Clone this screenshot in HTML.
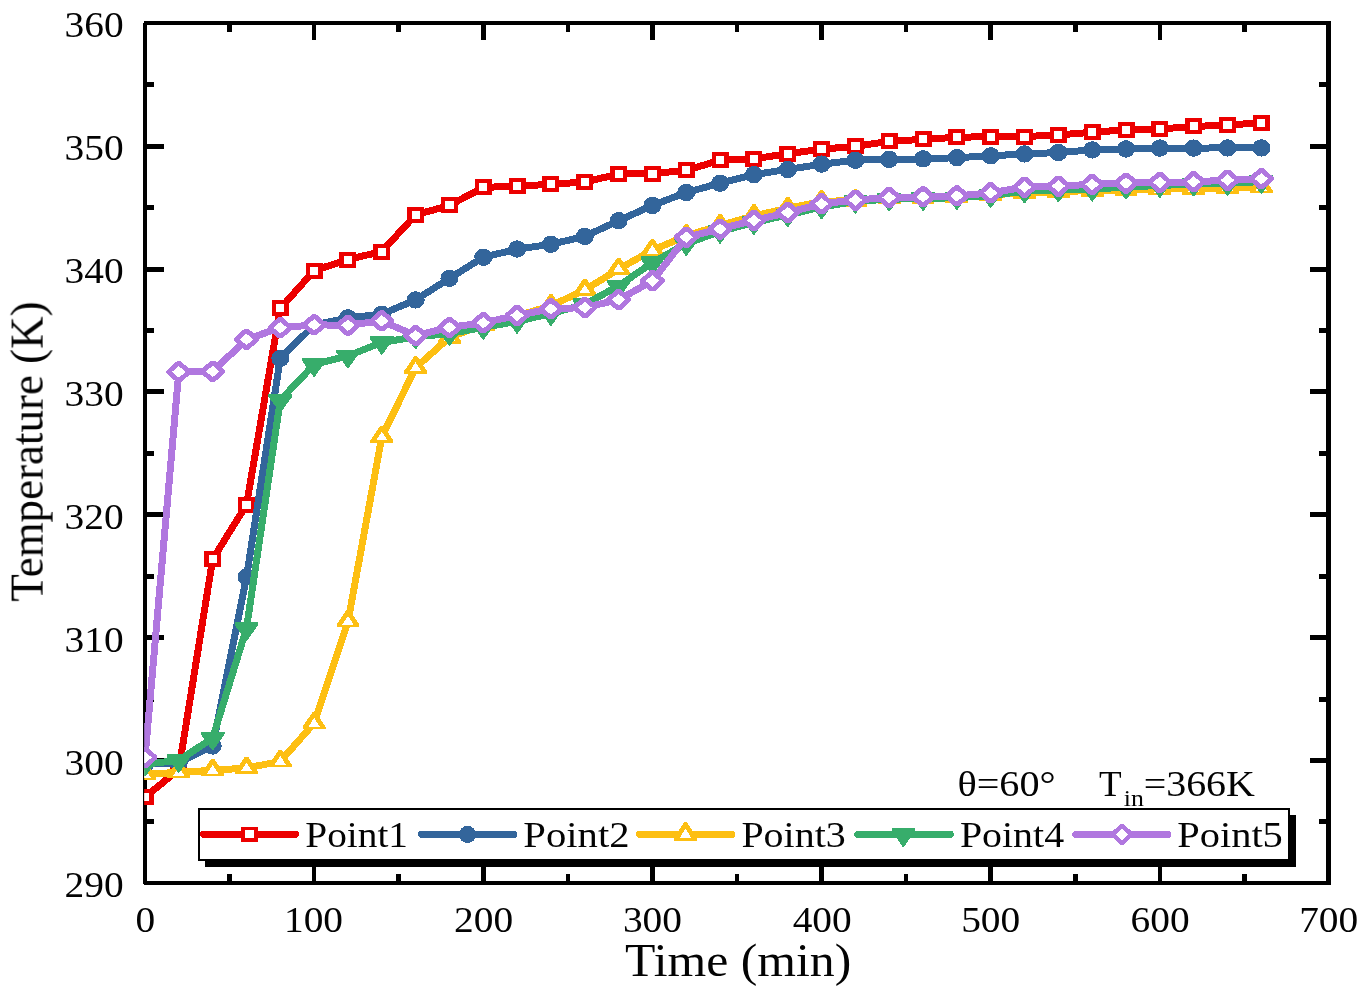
<!DOCTYPE html>
<html lang="en">
<head>
<meta charset="utf-8">
<title>Temperature vs Time</title>
<style>html,body{margin:0;padding:0;background:#fff}svg{display:block;will-change:transform}</style>
</head>
<body>
<svg width="1370" height="993" viewBox="0 0 1370 993" shape-rendering="crispEdges" font-family="'Liberation Serif', serif" fill="#000">
<rect width="1370" height="993" fill="#fff"/>
<defs><clipPath id="plot"><rect x="144.2" y="20" width="1190" height="866"/></clipPath></defs>
<path d="M144 21H1331V25H144ZM144 881H1331V885H144ZM143 23H147V884H143ZM1326 21H1331V885H1326Z" fill="#000"/>
<path d="M227.32 25.0h4.5v7.0h-4.5ZM227.32 881.0h4.5v-7.0h-4.5ZM311.89 25.0h4.5v15.0h-4.5ZM311.89 881.0h4.5v-15.0h-4.5ZM396.46 25.0h4.5v7.0h-4.5ZM396.46 881.0h4.5v-7.0h-4.5ZM481.04 25.0h4.5v15.0h-4.5ZM481.04 881.0h4.5v-15.0h-4.5ZM565.61 25.0h4.5v7.0h-4.5ZM565.61 881.0h4.5v-7.0h-4.5ZM650.18 25.0h4.5v15.0h-4.5ZM650.18 881.0h4.5v-15.0h-4.5ZM734.75 25.0h4.5v7.0h-4.5ZM734.75 881.0h4.5v-7.0h-4.5ZM819.32 25.0h4.5v15.0h-4.5ZM819.32 881.0h4.5v-15.0h-4.5ZM903.89 25.0h4.5v7.0h-4.5ZM903.89 881.0h4.5v-7.0h-4.5ZM988.46 25.0h4.5v15.0h-4.5ZM988.46 881.0h4.5v-15.0h-4.5ZM1073.04 25.0h4.5v7.0h-4.5ZM1073.04 881.0h4.5v-7.0h-4.5ZM1157.61 25.0h4.5v15.0h-4.5ZM1157.61 881.0h4.5v-15.0h-4.5ZM1242.18 25.0h4.5v7.0h-4.5ZM1242.18 881.0h4.5v-7.0h-4.5ZM147 819.0h7.0v5h-7.0ZM1326 819.0h-7.0v5h7.0ZM147 758.0h17.0v5h-17.0ZM1326 758.0h-16.0v5h16.0ZM147 697.0h7.0v5h-7.0ZM1326 697.0h-7.0v5h7.0ZM147 635.0h17.0v5h-17.0ZM1326 635.0h-16.0v5h16.0ZM147 574.0h7.0v5h-7.0ZM1326 574.0h-7.0v5h7.0ZM147 512.0h17.0v5h-17.0ZM1326 512.0h-16.0v5h16.0ZM147 451.0h7.0v5h-7.0ZM1326 451.0h-7.0v5h7.0ZM147 389.0h17.0v5h-17.0ZM1326 389.0h-16.0v5h16.0ZM147 328.0h7.0v5h-7.0ZM1326 328.0h-7.0v5h7.0ZM147 267.0h17.0v5h-17.0ZM1326 267.0h-16.0v5h16.0ZM147 205.0h7.0v5h-7.0ZM1326 205.0h-7.0v5h7.0ZM147 144.0h17.0v5h-17.0ZM1326 144.0h-16.0v5h16.0ZM147 82.0h7.0v5h-7.0ZM1326 82.0h-7.0v5h7.0Z" fill="#000"/>
<g clip-path="url(#plot)">
<path d="M145.0 797.0L178.8 769.6L212.7 559.1L246.5 504.7L280.3 308.4L314.1 270.6L348.0 259.5L381.8 251.5L415.6 214.9L449.5 205.4L483.3 187.4L517.1 186.2L550.9 184.3L584.8 182.0L618.6 174.1L652.4 173.6L686.3 170.4L720.1 160.2L753.9 158.9L787.7 153.7L821.6 149.2L855.4 146.3L889.2 141.4L923.1 139.3L956.9 137.3L990.7 136.6L1024.5 136.6L1058.4 134.9L1092.2 132.3L1126.0 129.8L1159.9 129.0L1193.7 126.4L1227.5 125.2L1261.3 122.6" fill="none" stroke="#ec0000" stroke-width="7.0" stroke-linejoin="round" stroke-linecap="round"/>
<rect x="136.50" y="789.00" width="17.00" height="16.00" fill="#ec0000"/>
<rect x="140.90" y="793.00" width="8.20" height="8.00" fill="#fff"/>
<rect x="170.33" y="761.60" width="17.00" height="16.00" fill="#ec0000"/>
<rect x="174.73" y="765.60" width="8.20" height="8.00" fill="#fff"/>
<rect x="204.16" y="551.15" width="17.00" height="16.00" fill="#ec0000"/>
<rect x="208.56" y="555.15" width="8.20" height="8.00" fill="#fff"/>
<rect x="237.99" y="496.72" width="17.00" height="16.00" fill="#ec0000"/>
<rect x="242.39" y="500.72" width="8.20" height="8.00" fill="#fff"/>
<rect x="271.81" y="300.40" width="17.00" height="16.00" fill="#ec0000"/>
<rect x="276.21" y="304.40" width="8.20" height="8.00" fill="#fff"/>
<rect x="305.64" y="262.56" width="17.00" height="16.00" fill="#ec0000"/>
<rect x="310.04" y="266.56" width="8.20" height="8.00" fill="#fff"/>
<rect x="339.47" y="251.50" width="17.00" height="16.00" fill="#ec0000"/>
<rect x="343.87" y="255.50" width="8.20" height="8.00" fill="#fff"/>
<rect x="373.30" y="243.51" width="17.00" height="16.00" fill="#ec0000"/>
<rect x="377.70" y="247.51" width="8.20" height="8.00" fill="#fff"/>
<rect x="407.13" y="206.90" width="17.00" height="16.00" fill="#ec0000"/>
<rect x="411.53" y="210.90" width="8.20" height="8.00" fill="#fff"/>
<rect x="440.96" y="197.44" width="17.00" height="16.00" fill="#ec0000"/>
<rect x="445.36" y="201.44" width="8.20" height="8.00" fill="#fff"/>
<rect x="474.79" y="179.38" width="17.00" height="16.00" fill="#ec0000"/>
<rect x="479.19" y="183.38" width="8.20" height="8.00" fill="#fff"/>
<rect x="508.61" y="178.15" width="17.00" height="16.00" fill="#ec0000"/>
<rect x="513.01" y="182.15" width="8.20" height="8.00" fill="#fff"/>
<rect x="542.44" y="176.31" width="17.00" height="16.00" fill="#ec0000"/>
<rect x="546.84" y="180.31" width="8.20" height="8.00" fill="#fff"/>
<rect x="576.27" y="173.98" width="17.00" height="16.00" fill="#ec0000"/>
<rect x="580.67" y="177.98" width="8.20" height="8.00" fill="#fff"/>
<rect x="610.10" y="166.11" width="17.00" height="16.00" fill="#ec0000"/>
<rect x="614.50" y="170.11" width="8.20" height="8.00" fill="#fff"/>
<rect x="643.93" y="165.62" width="17.00" height="16.00" fill="#ec0000"/>
<rect x="648.33" y="169.62" width="8.20" height="8.00" fill="#fff"/>
<rect x="677.76" y="162.43" width="17.00" height="16.00" fill="#ec0000"/>
<rect x="682.16" y="166.43" width="8.20" height="8.00" fill="#fff"/>
<rect x="711.59" y="152.23" width="17.00" height="16.00" fill="#ec0000"/>
<rect x="715.99" y="156.23" width="8.20" height="8.00" fill="#fff"/>
<rect x="745.41" y="150.88" width="17.00" height="16.00" fill="#ec0000"/>
<rect x="749.81" y="154.88" width="8.20" height="8.00" fill="#fff"/>
<rect x="779.24" y="145.72" width="17.00" height="16.00" fill="#ec0000"/>
<rect x="783.64" y="149.72" width="8.20" height="8.00" fill="#fff"/>
<rect x="813.07" y="141.17" width="17.00" height="16.00" fill="#ec0000"/>
<rect x="817.47" y="145.17" width="8.20" height="8.00" fill="#fff"/>
<rect x="846.90" y="138.35" width="17.00" height="16.00" fill="#ec0000"/>
<rect x="851.30" y="142.35" width="8.20" height="8.00" fill="#fff"/>
<rect x="880.73" y="133.43" width="17.00" height="16.00" fill="#ec0000"/>
<rect x="885.13" y="137.43" width="8.20" height="8.00" fill="#fff"/>
<rect x="914.56" y="131.35" width="17.00" height="16.00" fill="#ec0000"/>
<rect x="918.96" y="135.35" width="8.20" height="8.00" fill="#fff"/>
<rect x="948.39" y="129.26" width="17.00" height="16.00" fill="#ec0000"/>
<rect x="952.79" y="133.26" width="8.20" height="8.00" fill="#fff"/>
<rect x="982.21" y="128.64" width="17.00" height="16.00" fill="#ec0000"/>
<rect x="986.61" y="132.64" width="8.20" height="8.00" fill="#fff"/>
<rect x="1016.04" y="128.64" width="17.00" height="16.00" fill="#ec0000"/>
<rect x="1020.44" y="132.64" width="8.20" height="8.00" fill="#fff"/>
<rect x="1049.87" y="126.92" width="17.00" height="16.00" fill="#ec0000"/>
<rect x="1054.27" y="130.92" width="8.20" height="8.00" fill="#fff"/>
<rect x="1083.70" y="124.34" width="17.00" height="16.00" fill="#ec0000"/>
<rect x="1088.10" y="128.34" width="8.20" height="8.00" fill="#fff"/>
<rect x="1117.53" y="121.76" width="17.00" height="16.00" fill="#ec0000"/>
<rect x="1121.93" y="125.76" width="8.20" height="8.00" fill="#fff"/>
<rect x="1151.36" y="121.03" width="17.00" height="16.00" fill="#ec0000"/>
<rect x="1155.76" y="125.03" width="8.20" height="8.00" fill="#fff"/>
<rect x="1185.19" y="118.45" width="17.00" height="16.00" fill="#ec0000"/>
<rect x="1189.59" y="122.45" width="8.20" height="8.00" fill="#fff"/>
<rect x="1219.01" y="117.22" width="17.00" height="16.00" fill="#ec0000"/>
<rect x="1223.41" y="121.22" width="8.20" height="8.00" fill="#fff"/>
<rect x="1252.84" y="114.64" width="17.00" height="16.00" fill="#ec0000"/>
<rect x="1257.24" y="118.64" width="8.20" height="8.00" fill="#fff"/>
<path d="M145.0 764.4L178.8 762.8L212.7 746.0L246.5 577.1L280.3 358.4L314.1 325.0L348.0 317.9L381.8 314.2L415.6 299.9L449.5 278.3L483.3 257.3L517.1 249.1L550.9 244.3L584.8 236.4L618.6 220.7L652.4 205.4L686.3 192.5L720.1 183.2L753.9 174.6L787.7 169.4L821.6 164.2L855.4 160.2L889.2 159.4L923.1 158.9L956.9 157.7L990.7 155.8L1024.5 154.0L1058.4 152.5L1092.2 149.9L1126.0 148.9L1159.9 148.1L1193.7 148.1L1227.5 147.9L1261.3 147.9" fill="none" stroke="#33659b" stroke-width="7.0" stroke-linejoin="round" stroke-linecap="round"/>
<ellipse cx="145.00" cy="764.44" rx="9.00" ry="8.70" fill="#33659b"/>
<ellipse cx="178.83" cy="762.85" rx="9.00" ry="8.70" fill="#33659b"/>
<ellipse cx="212.66" cy="746.01" rx="9.00" ry="8.70" fill="#33659b"/>
<ellipse cx="246.49" cy="577.09" rx="9.00" ry="8.70" fill="#33659b"/>
<ellipse cx="280.31" cy="358.40" rx="9.00" ry="8.70" fill="#33659b"/>
<ellipse cx="314.14" cy="324.98" rx="9.00" ry="8.70" fill="#33659b"/>
<ellipse cx="347.97" cy="317.86" rx="9.00" ry="8.70" fill="#33659b"/>
<ellipse cx="381.80" cy="314.17" rx="9.00" ry="8.70" fill="#33659b"/>
<ellipse cx="415.63" cy="299.92" rx="9.00" ry="8.70" fill="#33659b"/>
<ellipse cx="449.46" cy="278.30" rx="9.00" ry="8.70" fill="#33659b"/>
<ellipse cx="483.29" cy="257.29" rx="9.00" ry="8.70" fill="#33659b"/>
<ellipse cx="517.11" cy="249.06" rx="9.00" ry="8.70" fill="#33659b"/>
<ellipse cx="550.94" cy="244.27" rx="9.00" ry="8.70" fill="#33659b"/>
<ellipse cx="584.77" cy="236.40" rx="9.00" ry="8.70" fill="#33659b"/>
<ellipse cx="618.60" cy="220.68" rx="9.00" ry="8.70" fill="#33659b"/>
<ellipse cx="652.43" cy="205.44" rx="9.00" ry="8.70" fill="#33659b"/>
<ellipse cx="686.26" cy="192.54" rx="9.00" ry="8.70" fill="#33659b"/>
<ellipse cx="720.09" cy="183.21" rx="9.00" ry="8.70" fill="#33659b"/>
<ellipse cx="753.91" cy="174.61" rx="9.00" ry="8.70" fill="#33659b"/>
<ellipse cx="787.74" cy="169.45" rx="9.00" ry="8.70" fill="#33659b"/>
<ellipse cx="821.57" cy="164.16" rx="9.00" ry="8.70" fill="#33659b"/>
<ellipse cx="855.40" cy="160.23" rx="9.00" ry="8.70" fill="#33659b"/>
<ellipse cx="889.23" cy="159.37" rx="9.00" ry="8.70" fill="#33659b"/>
<ellipse cx="923.06" cy="158.88" rx="9.00" ry="8.70" fill="#33659b"/>
<ellipse cx="956.89" cy="157.65" rx="9.00" ry="8.70" fill="#33659b"/>
<ellipse cx="990.71" cy="155.81" rx="9.00" ry="8.70" fill="#33659b"/>
<ellipse cx="1024.54" cy="153.97" rx="9.00" ry="8.70" fill="#33659b"/>
<ellipse cx="1058.37" cy="152.49" rx="9.00" ry="8.70" fill="#33659b"/>
<ellipse cx="1092.20" cy="149.91" rx="9.00" ry="8.70" fill="#33659b"/>
<ellipse cx="1126.03" cy="148.93" rx="9.00" ry="8.70" fill="#33659b"/>
<ellipse cx="1159.86" cy="148.07" rx="9.00" ry="8.70" fill="#33659b"/>
<ellipse cx="1193.69" cy="148.07" rx="9.00" ry="8.70" fill="#33659b"/>
<ellipse cx="1227.51" cy="147.95" rx="9.00" ry="8.70" fill="#33659b"/>
<ellipse cx="1261.34" cy="147.95" rx="9.00" ry="8.70" fill="#33659b"/>
<path d="M145.0 774.3L178.8 772.3L212.7 770.3L246.5 768.0L280.3 761.4L314.1 723.3L348.0 621.3L381.8 437.0L415.6 367.6L449.5 337.5L483.3 324.6L517.1 316.0L550.9 305.8L584.8 290.0L618.6 269.1L652.4 250.3L686.3 235.8L720.1 225.5L753.9 215.8L787.7 208.4L821.6 201.4L855.4 200.5L889.2 198.1L923.1 197.5L956.9 196.7L990.7 194.8L1024.5 192.9L1058.4 191.7L1092.2 190.5L1126.0 189.8L1159.9 189.2L1193.7 188.6L1227.5 188.0L1261.3 187.3" fill="none" stroke="#fdbf12" stroke-width="7.0" stroke-linejoin="round" stroke-linecap="round"/>
<path d="M143.50 762.87L146.50 762.87L156.40 777.57L156.40 780.37L133.60 780.37L133.60 777.57Z" fill="#fdbf12"/>
<path d="M145.00 768.87L150.60 777.57L139.40 777.57Z" fill="#fff"/>
<path d="M177.33 760.91L180.33 760.91L190.23 775.61L190.23 778.41L167.43 778.41L167.43 775.61Z" fill="#fdbf12"/>
<path d="M178.83 766.91L184.43 775.61L173.23 775.61Z" fill="#fff"/>
<path d="M211.16 758.94L214.16 758.94L224.06 773.64L224.06 776.44L201.26 776.44L201.26 773.64Z" fill="#fdbf12"/>
<path d="M212.66 764.94L218.26 773.64L207.06 773.64Z" fill="#fff"/>
<path d="M244.99 756.61L247.99 756.61L257.89 771.31L257.89 774.11L235.09 774.11L235.09 771.31Z" fill="#fdbf12"/>
<path d="M246.49 762.61L252.09 771.31L240.89 771.31Z" fill="#fff"/>
<path d="M278.81 749.97L281.81 749.97L291.71 764.67L291.71 767.47L268.91 767.47L268.91 764.67Z" fill="#fdbf12"/>
<path d="M280.31 755.97L285.91 764.67L274.71 764.67Z" fill="#fff"/>
<path d="M312.64 711.89L315.64 711.89L325.54 726.59L325.54 729.39L302.74 729.39L302.74 726.59Z" fill="#fdbf12"/>
<path d="M314.14 717.89L319.74 726.59L308.54 726.59Z" fill="#fff"/>
<path d="M346.47 609.91L349.47 609.91L359.37 624.61L359.37 627.41L336.57 627.41L336.57 624.61Z" fill="#fdbf12"/>
<path d="M347.97 615.91L353.57 624.61L342.37 624.61Z" fill="#fff"/>
<path d="M380.30 425.63L383.30 425.63L393.20 440.33L393.20 443.13L370.40 443.13L370.40 440.33Z" fill="#fdbf12"/>
<path d="M381.80 431.63L387.40 440.33L376.20 440.33Z" fill="#fff"/>
<path d="M414.13 356.21L417.13 356.21L427.03 370.91L427.03 373.71L404.23 373.71L404.23 370.91Z" fill="#fdbf12"/>
<path d="M415.63 362.21L421.23 370.91L410.03 370.91Z" fill="#fff"/>
<path d="M447.96 326.11L450.96 326.11L460.86 340.81L460.86 343.61L438.06 343.61L438.06 340.81Z" fill="#fdbf12"/>
<path d="M449.46 332.11L455.06 340.81L443.86 340.81Z" fill="#fff"/>
<path d="M481.79 313.21L484.79 313.21L494.69 327.91L494.69 330.71L471.89 330.71L471.89 327.91Z" fill="#fdbf12"/>
<path d="M483.29 319.21L488.89 327.91L477.69 327.91Z" fill="#fff"/>
<path d="M515.61 304.61L518.61 304.61L528.51 319.31L528.51 322.11L505.71 322.11L505.71 319.31Z" fill="#fdbf12"/>
<path d="M517.11 310.61L522.71 319.31L511.51 319.31Z" fill="#fff"/>
<path d="M549.44 294.42L552.44 294.42L562.34 309.12L562.34 311.92L539.54 311.92L539.54 309.12Z" fill="#fdbf12"/>
<path d="M550.94 300.42L556.54 309.12L545.34 309.12Z" fill="#fff"/>
<path d="M583.27 278.57L586.27 278.57L596.17 293.27L596.17 296.07L573.37 296.07L573.37 293.27Z" fill="#fdbf12"/>
<path d="M584.77 284.57L590.37 293.27L579.17 293.27Z" fill="#fff"/>
<path d="M617.10 257.68L620.10 257.68L630.00 272.38L630.00 275.18L607.20 275.18L607.20 272.38Z" fill="#fdbf12"/>
<path d="M618.60 263.68L624.20 272.38L613.00 272.38Z" fill="#fff"/>
<path d="M650.93 238.89L653.93 238.89L663.83 253.59L663.83 256.39L641.03 256.39L641.03 253.59Z" fill="#fdbf12"/>
<path d="M652.43 244.89L658.03 253.59L646.83 253.59Z" fill="#fff"/>
<path d="M684.76 224.39L687.76 224.39L697.66 239.09L697.66 241.89L674.86 241.89L674.86 239.09Z" fill="#fdbf12"/>
<path d="M686.26 230.39L691.86 239.09L680.66 239.09Z" fill="#fff"/>
<path d="M718.59 214.07L721.59 214.07L731.49 228.77L731.49 231.57L708.69 231.57L708.69 228.77Z" fill="#fdbf12"/>
<path d="M720.09 220.07L725.69 228.77L714.49 228.77Z" fill="#fff"/>
<path d="M752.41 204.36L755.41 204.36L765.31 219.06L765.31 221.86L742.51 221.86L742.51 219.06Z" fill="#fdbf12"/>
<path d="M753.91 210.36L759.51 219.06L748.31 219.06Z" fill="#fff"/>
<path d="M786.24 196.99L789.24 196.99L799.14 211.69L799.14 214.49L776.34 214.49L776.34 211.69Z" fill="#fdbf12"/>
<path d="M787.74 202.99L793.34 211.69L782.14 211.69Z" fill="#fff"/>
<path d="M820.07 189.99L823.07 189.99L832.97 204.69L832.97 207.49L810.17 207.49L810.17 204.69Z" fill="#fdbf12"/>
<path d="M821.57 195.99L827.17 204.69L815.97 204.69Z" fill="#fff"/>
<path d="M853.90 189.13L856.90 189.13L866.80 203.83L866.80 206.63L844.00 206.63L844.00 203.83Z" fill="#fdbf12"/>
<path d="M855.40 195.13L861.00 203.83L849.80 203.83Z" fill="#fff"/>
<path d="M887.73 186.67L890.73 186.67L900.63 201.37L900.63 204.17L877.83 204.17L877.83 201.37Z" fill="#fdbf12"/>
<path d="M889.23 192.67L894.83 201.37L883.63 201.37Z" fill="#fff"/>
<path d="M921.56 186.06L924.56 186.06L934.46 200.76L934.46 203.56L911.66 203.56L911.66 200.76Z" fill="#fdbf12"/>
<path d="M923.06 192.06L928.66 200.76L917.46 200.76Z" fill="#fff"/>
<path d="M955.39 185.32L958.39 185.32L968.29 200.02L968.29 202.82L945.49 202.82L945.49 200.02Z" fill="#fdbf12"/>
<path d="M956.89 191.32L962.49 200.02L951.29 200.02Z" fill="#fff"/>
<path d="M989.21 183.35L992.21 183.35L1002.11 198.05L1002.11 200.85L979.31 200.85L979.31 198.05Z" fill="#fdbf12"/>
<path d="M990.71 189.35L996.31 198.05L985.11 198.05Z" fill="#fff"/>
<path d="M1023.04 181.51L1026.04 181.51L1035.94 196.21L1035.94 199.01L1013.14 199.01L1013.14 196.21Z" fill="#fdbf12"/>
<path d="M1024.54 187.51L1030.14 196.21L1018.94 196.21Z" fill="#fff"/>
<path d="M1056.87 180.28L1059.87 180.28L1069.77 194.98L1069.77 197.78L1046.97 197.78L1046.97 194.98Z" fill="#fdbf12"/>
<path d="M1058.37 186.28L1063.97 194.98L1052.77 194.98Z" fill="#fff"/>
<path d="M1090.70 179.05L1093.70 179.05L1103.60 193.75L1103.60 196.55L1080.80 196.55L1080.80 193.75Z" fill="#fdbf12"/>
<path d="M1092.20 185.05L1097.80 193.75L1086.60 193.75Z" fill="#fff"/>
<path d="M1124.53 178.44L1127.53 178.44L1137.43 193.14L1137.43 195.94L1114.63 195.94L1114.63 193.14Z" fill="#fdbf12"/>
<path d="M1126.03 184.44L1131.63 193.14L1120.43 193.14Z" fill="#fff"/>
<path d="M1158.36 177.83L1161.36 177.83L1171.26 192.53L1171.26 195.33L1148.46 195.33L1148.46 192.53Z" fill="#fdbf12"/>
<path d="M1159.86 183.83L1165.46 192.53L1154.26 192.53Z" fill="#fff"/>
<path d="M1192.19 177.21L1195.19 177.21L1205.09 191.91L1205.09 194.71L1182.29 194.71L1182.29 191.91Z" fill="#fdbf12"/>
<path d="M1193.69 183.21L1199.29 191.91L1188.09 191.91Z" fill="#fff"/>
<path d="M1226.01 176.60L1229.01 176.60L1238.91 191.30L1238.91 194.10L1216.11 194.10L1216.11 191.30Z" fill="#fdbf12"/>
<path d="M1227.51 182.60L1233.11 191.30L1221.91 191.30Z" fill="#fff"/>
<path d="M1259.84 175.86L1262.84 175.86L1272.74 190.56L1272.74 193.36L1249.94 193.36L1249.94 190.56Z" fill="#fdbf12"/>
<path d="M1261.34 181.86L1266.94 190.56L1255.74 190.56Z" fill="#fff"/>
<path d="M145.0 764.1L178.8 760.4L212.7 738.0L246.5 628.4L280.3 400.2L314.1 364.5L348.0 355.9L381.8 342.4L415.6 336.9L449.5 333.5L483.3 327.4L517.1 321.4L550.9 313.6L584.8 304.3L618.6 285.9L652.4 262.6L686.3 243.7L720.1 231.4L753.9 222.6L787.7 214.9L821.6 207.0L855.4 201.3L889.2 199.2L923.1 198.6L956.9 197.7L990.7 195.6L1024.5 191.1L1058.4 190.0L1092.2 189.2L1126.0 187.1L1159.9 185.4L1193.7 184.2L1227.5 183.3L1261.3 181.6" fill="none" stroke="#37ad6b" stroke-width="7.0" stroke-linejoin="round" stroke-linecap="round"/>
<path d="M133.10 757.87L156.90 757.87L156.90 760.47L145.50 776.37L144.50 776.37L133.10 760.47Z" fill="#37ad6b"/>
<path d="M166.93 754.19L190.73 754.19L190.73 756.79L179.33 772.69L178.33 772.69L166.93 756.79Z" fill="#37ad6b"/>
<path d="M200.76 731.83L224.56 731.83L224.56 734.43L213.16 750.33L212.16 750.33L200.76 734.43Z" fill="#37ad6b"/>
<path d="M234.59 622.24L258.39 622.24L258.39 624.84L246.99 640.74L245.99 640.74L234.59 624.84Z" fill="#37ad6b"/>
<path d="M268.41 393.97L292.21 393.97L292.21 396.57L280.81 412.47L279.81 412.47L268.41 396.57Z" fill="#37ad6b"/>
<path d="M302.24 358.34L326.04 358.34L326.04 360.94L314.64 376.84L313.64 376.84L302.24 360.94Z" fill="#37ad6b"/>
<path d="M336.07 349.74L359.87 349.74L359.87 352.34L348.47 368.24L347.47 368.24L336.07 352.34Z" fill="#37ad6b"/>
<path d="M369.90 336.23L393.70 336.23L393.70 338.83L382.30 354.73L381.30 354.73L369.90 338.83Z" fill="#37ad6b"/>
<path d="M403.73 330.70L427.53 330.70L427.53 333.30L416.13 349.20L415.13 349.20L403.73 333.30Z" fill="#37ad6b"/>
<path d="M437.56 327.26L461.36 327.26L461.36 329.86L449.96 345.76L448.96 345.76L437.56 329.86Z" fill="#37ad6b"/>
<path d="M471.39 321.24L495.19 321.24L495.19 323.84L483.79 339.74L482.79 339.74L471.39 323.84Z" fill="#37ad6b"/>
<path d="M505.21 315.22L529.01 315.22L529.01 317.82L517.61 333.72L516.61 333.72L505.21 317.82Z" fill="#37ad6b"/>
<path d="M539.04 307.36L562.84 307.36L562.84 309.96L551.44 325.86L550.44 325.86L539.04 309.96Z" fill="#37ad6b"/>
<path d="M572.87 298.14L596.67 298.14L596.67 300.74L585.27 316.64L584.27 316.64L572.87 300.74Z" fill="#37ad6b"/>
<path d="M606.70 279.71L630.50 279.71L630.50 282.31L619.10 298.21L618.10 298.21L606.70 282.31Z" fill="#37ad6b"/>
<path d="M640.53 256.37L664.33 256.37L664.33 258.97L652.93 274.87L651.93 274.87L640.53 258.97Z" fill="#37ad6b"/>
<path d="M674.36 237.45L698.16 237.45L698.16 240.05L686.76 255.95L685.76 255.95L674.36 240.05Z" fill="#37ad6b"/>
<path d="M708.19 225.17L731.99 225.17L731.99 227.77L720.59 243.67L719.59 243.67L708.19 227.77Z" fill="#37ad6b"/>
<path d="M742.01 216.44L765.81 216.44L765.81 219.04L754.41 234.94L753.41 234.94L742.01 219.04Z" fill="#37ad6b"/>
<path d="M775.84 208.70L799.64 208.70L799.64 211.30L788.24 227.20L787.24 227.20L775.84 211.30Z" fill="#37ad6b"/>
<path d="M809.67 200.84L833.47 200.84L833.47 203.44L822.07 219.34L821.07 219.34L809.67 203.44Z" fill="#37ad6b"/>
<path d="M843.50 195.07L867.30 195.07L867.30 197.67L855.90 213.57L854.90 213.57L843.50 197.67Z" fill="#37ad6b"/>
<path d="M877.33 192.98L901.13 192.98L901.13 195.58L889.73 211.48L888.73 211.48L877.33 195.58Z" fill="#37ad6b"/>
<path d="M911.16 192.36L934.96 192.36L934.96 194.96L923.56 210.86L922.56 210.86L911.16 194.96Z" fill="#37ad6b"/>
<path d="M944.99 191.50L968.79 191.50L968.79 194.10L957.39 210.00L956.39 210.00L944.99 194.10Z" fill="#37ad6b"/>
<path d="M978.81 189.41L1002.61 189.41L1002.61 192.01L991.21 207.91L990.21 207.91L978.81 192.01Z" fill="#37ad6b"/>
<path d="M1012.64 184.87L1036.44 184.87L1036.44 187.47L1025.04 203.37L1024.04 203.37L1012.64 187.47Z" fill="#37ad6b"/>
<path d="M1046.47 183.76L1070.27 183.76L1070.27 186.36L1058.87 202.26L1057.87 202.26L1046.47 186.36Z" fill="#37ad6b"/>
<path d="M1080.30 183.03L1104.10 183.03L1104.10 185.63L1092.70 201.53L1091.70 201.53L1080.30 185.63Z" fill="#37ad6b"/>
<path d="M1114.13 180.94L1137.93 180.94L1137.93 183.54L1126.53 199.44L1125.53 199.44L1114.13 183.54Z" fill="#37ad6b"/>
<path d="M1147.96 179.22L1171.76 179.22L1171.76 181.82L1160.36 197.72L1159.36 197.72L1147.96 181.82Z" fill="#37ad6b"/>
<path d="M1181.79 177.99L1205.59 177.99L1205.59 180.59L1194.19 196.49L1193.19 196.49L1181.79 180.59Z" fill="#37ad6b"/>
<path d="M1215.61 177.13L1239.41 177.13L1239.41 179.73L1228.01 195.63L1227.01 195.63L1215.61 179.73Z" fill="#37ad6b"/>
<path d="M1249.44 175.41L1273.24 175.41L1273.24 178.01L1261.84 193.91L1260.84 193.91L1249.44 178.01Z" fill="#37ad6b"/>
<path d="M145.0 757.4L178.8 371.9L212.7 371.4L246.5 339.4L280.3 327.7L314.1 324.9L348.0 325.2L381.8 320.9L415.6 335.7L449.5 327.4L483.3 322.8L517.1 315.4L550.9 308.9L584.8 307.5L618.6 299.7L652.4 280.9L686.3 237.1L720.1 229.0L753.9 220.4L787.7 212.6L821.6 203.8L855.4 200.0L889.2 197.5L923.1 196.8L956.9 196.0L990.7 192.9L1024.5 187.1L1058.4 186.0L1092.2 184.4L1126.0 183.1L1159.9 182.3L1193.7 181.9L1227.5 180.1L1261.3 178.8" fill="none" stroke="#b077df" stroke-width="7.0" stroke-linejoin="round" stroke-linecap="round"/>
<path d="M142.80 746.94L147.20 746.94L157.40 756.14L157.40 758.74L147.20 767.94L142.80 767.94L132.60 758.74L132.60 756.14Z" fill="#b077df"/>
<path d="M145.00 751.74L151.80 757.44L145.00 763.14L138.20 757.44Z" fill="#fff"/>
<path d="M176.63 361.41L181.03 361.41L191.23 370.61L191.23 373.21L181.03 382.41L176.63 382.41L166.43 373.21L166.43 370.61Z" fill="#b077df"/>
<path d="M178.83 366.21L185.63 371.91L178.83 377.61L172.03 371.91Z" fill="#fff"/>
<path d="M210.46 360.92L214.86 360.92L225.06 370.12L225.06 372.72L214.86 381.92L210.46 381.92L200.26 372.72L200.26 370.12Z" fill="#b077df"/>
<path d="M212.66 365.72L219.46 371.42L212.66 377.12L205.86 371.42Z" fill="#fff"/>
<path d="M244.29 328.86L248.69 328.86L258.89 338.06L258.89 340.66L248.69 349.86L244.29 349.86L234.09 340.66L234.09 338.06Z" fill="#b077df"/>
<path d="M246.49 333.66L253.29 339.36L246.49 345.06L239.69 339.36Z" fill="#fff"/>
<path d="M278.11 317.19L282.51 317.19L292.71 326.39L292.71 328.99L282.51 338.19L278.11 338.19L267.91 328.99L267.91 326.39Z" fill="#b077df"/>
<path d="M280.31 321.99L287.11 327.69L280.31 333.39L273.51 327.69Z" fill="#fff"/>
<path d="M311.94 314.36L316.34 314.36L326.54 323.56L326.54 326.16L316.34 335.36L311.94 335.36L301.74 326.16L301.74 323.56Z" fill="#b077df"/>
<path d="M314.14 319.16L320.94 324.86L314.14 330.56L307.34 324.86Z" fill="#fff"/>
<path d="M345.77 314.73L350.17 314.73L360.37 323.93L360.37 326.53L350.17 335.73L345.77 335.73L335.57 326.53L335.57 323.93Z" fill="#b077df"/>
<path d="M347.97 319.53L354.77 325.23L347.97 330.93L341.17 325.23Z" fill="#fff"/>
<path d="M379.60 310.43L384.00 310.43L394.20 319.63L394.20 322.23L384.00 331.43L379.60 331.43L369.40 322.23L369.40 319.63Z" fill="#b077df"/>
<path d="M381.80 315.23L388.60 320.93L381.80 326.63L375.00 320.93Z" fill="#fff"/>
<path d="M413.43 325.17L417.83 325.17L428.03 334.37L428.03 336.97L417.83 346.17L413.43 346.17L403.23 336.97L403.23 334.37Z" fill="#b077df"/>
<path d="M415.63 329.97L422.43 335.67L415.63 341.37L408.83 335.67Z" fill="#fff"/>
<path d="M447.26 316.94L451.66 316.94L461.86 326.14L461.86 328.74L451.66 337.94L447.26 337.94L437.06 328.74L437.06 326.14Z" fill="#b077df"/>
<path d="M449.46 321.74L456.26 327.44L449.46 333.14L442.66 327.44Z" fill="#fff"/>
<path d="M481.09 312.27L485.49 312.27L495.69 321.47L495.69 324.07L485.49 333.27L481.09 333.27L470.89 324.07L470.89 321.47Z" fill="#b077df"/>
<path d="M483.29 317.07L490.09 322.77L483.29 328.47L476.49 322.77Z" fill="#fff"/>
<path d="M514.91 304.90L519.31 304.90L529.51 314.10L529.51 316.70L519.31 325.90L514.91 325.90L504.71 316.70L504.71 314.10Z" fill="#b077df"/>
<path d="M517.11 309.70L523.91 315.40L517.11 321.10L510.31 315.40Z" fill="#fff"/>
<path d="M548.74 298.39L553.14 298.39L563.34 307.59L563.34 310.19L553.14 319.39L548.74 319.39L538.54 310.19L538.54 307.59Z" fill="#b077df"/>
<path d="M550.94 303.19L557.74 308.89L550.94 314.59L544.14 308.89Z" fill="#fff"/>
<path d="M582.57 297.04L586.97 297.04L597.17 306.24L597.17 308.84L586.97 318.04L582.57 318.04L572.37 308.84L572.37 306.24Z" fill="#b077df"/>
<path d="M584.77 301.84L591.57 307.54L584.77 313.24L577.97 307.54Z" fill="#fff"/>
<path d="M616.40 289.17L620.80 289.17L631.00 298.37L631.00 300.97L620.80 310.17L616.40 310.17L606.20 300.97L606.20 298.37Z" fill="#b077df"/>
<path d="M618.60 293.97L625.40 299.67L618.60 305.37L611.80 299.67Z" fill="#fff"/>
<path d="M650.23 270.38L654.63 270.38L664.83 279.58L664.83 282.18L654.63 291.38L650.23 291.38L640.03 282.18L640.03 279.58Z" fill="#b077df"/>
<path d="M652.43 275.18L659.23 280.88L652.43 286.58L645.63 280.88Z" fill="#fff"/>
<path d="M684.06 226.64L688.46 226.64L698.66 235.84L698.66 238.44L688.46 247.64L684.06 247.64L673.86 238.44L673.86 235.84Z" fill="#b077df"/>
<path d="M686.26 231.44L693.06 237.14L686.26 242.84L679.46 237.14Z" fill="#fff"/>
<path d="M717.89 218.53L722.29 218.53L732.49 227.73L732.49 230.33L722.29 239.53L717.89 239.53L707.69 230.33L707.69 227.73Z" fill="#b077df"/>
<path d="M720.09 223.33L726.89 229.03L720.09 234.73L713.29 229.03Z" fill="#fff"/>
<path d="M751.71 209.93L756.11 209.93L766.31 219.13L766.31 221.73L756.11 230.93L751.71 230.93L741.51 221.73L741.51 219.13Z" fill="#b077df"/>
<path d="M753.91 214.73L760.71 220.43L753.91 226.13L747.11 220.43Z" fill="#fff"/>
<path d="M785.54 202.07L789.94 202.07L800.14 211.27L800.14 213.87L789.94 223.07L785.54 223.07L775.34 213.87L775.34 211.27Z" fill="#b077df"/>
<path d="M787.74 206.87L794.54 212.57L787.74 218.27L780.94 212.57Z" fill="#fff"/>
<path d="M819.37 193.35L823.77 193.35L833.97 202.55L833.97 205.15L823.77 214.35L819.37 214.35L809.17 205.15L809.17 202.55Z" fill="#b077df"/>
<path d="M821.57 198.15L828.37 203.85L821.57 209.55L814.77 203.85Z" fill="#fff"/>
<path d="M853.20 189.54L857.60 189.54L867.80 198.74L867.80 201.34L857.60 210.54L853.20 210.54L843.00 201.34L843.00 198.74Z" fill="#b077df"/>
<path d="M855.40 194.34L862.20 200.04L855.40 205.74L848.60 200.04Z" fill="#fff"/>
<path d="M887.03 186.96L891.43 186.96L901.63 196.16L901.63 198.76L891.43 207.96L887.03 207.96L876.83 198.76L876.83 196.16Z" fill="#b077df"/>
<path d="M889.23 191.76L896.03 197.46L889.23 203.16L882.43 197.46Z" fill="#fff"/>
<path d="M920.86 186.34L925.26 186.34L935.46 195.54L935.46 198.14L925.26 207.34L920.86 207.34L910.66 198.14L910.66 195.54Z" fill="#b077df"/>
<path d="M923.06 191.14L929.86 196.84L923.06 202.54L916.26 196.84Z" fill="#fff"/>
<path d="M954.69 185.48L959.09 185.48L969.29 194.68L969.29 197.28L959.09 206.48L954.69 206.48L944.49 197.28L944.49 194.68Z" fill="#b077df"/>
<path d="M956.89 190.28L963.69 195.98L956.89 201.68L950.09 195.98Z" fill="#fff"/>
<path d="M988.51 182.41L992.91 182.41L1003.11 191.61L1003.11 194.21L992.91 203.41L988.51 203.41L978.31 194.21L978.31 191.61Z" fill="#b077df"/>
<path d="M990.71 187.21L997.51 192.91L990.71 198.61L983.91 192.91Z" fill="#fff"/>
<path d="M1022.34 176.64L1026.74 176.64L1036.94 185.84L1036.94 188.44L1026.74 197.64L1022.34 197.64L1012.14 188.44L1012.14 185.84Z" fill="#b077df"/>
<path d="M1024.54 181.44L1031.34 187.14L1024.54 192.84L1017.74 187.14Z" fill="#fff"/>
<path d="M1056.17 175.53L1060.57 175.53L1070.77 184.73L1070.77 187.33L1060.57 196.53L1056.17 196.53L1045.97 187.33L1045.97 184.73Z" fill="#b077df"/>
<path d="M1058.37 180.33L1065.17 186.03L1058.37 191.73L1051.57 186.03Z" fill="#fff"/>
<path d="M1090.00 173.93L1094.40 173.93L1104.60 183.13L1104.60 185.73L1094.40 194.93L1090.00 194.93L1079.80 185.73L1079.80 183.13Z" fill="#b077df"/>
<path d="M1092.20 178.73L1099.00 184.43L1092.20 190.13L1085.40 184.43Z" fill="#fff"/>
<path d="M1123.83 172.58L1128.23 172.58L1138.43 181.78L1138.43 184.38L1128.23 193.58L1123.83 193.58L1113.63 184.38L1113.63 181.78Z" fill="#b077df"/>
<path d="M1126.03 177.38L1132.83 183.08L1126.03 188.78L1119.23 183.08Z" fill="#fff"/>
<path d="M1157.66 171.85L1162.06 171.85L1172.26 181.05L1172.26 183.65L1162.06 192.85L1157.66 192.85L1147.46 183.65L1147.46 181.05Z" fill="#b077df"/>
<path d="M1159.86 176.65L1166.66 182.35L1159.86 188.05L1153.06 182.35Z" fill="#fff"/>
<path d="M1191.49 171.35L1195.89 171.35L1206.09 180.55L1206.09 183.15L1195.89 192.35L1191.49 192.35L1181.29 183.15L1181.29 180.55Z" fill="#b077df"/>
<path d="M1193.69 176.15L1200.49 181.85L1193.69 187.55L1186.89 181.85Z" fill="#fff"/>
<path d="M1225.31 169.63L1229.71 169.63L1239.91 178.83L1239.91 181.43L1229.71 190.63L1225.31 190.63L1215.11 181.43L1215.11 178.83Z" fill="#b077df"/>
<path d="M1227.51 174.43L1234.31 180.13L1227.51 185.83L1220.71 180.13Z" fill="#fff"/>
<path d="M1259.14 168.28L1263.54 168.28L1273.74 177.48L1273.74 180.08L1263.54 189.28L1259.14 189.28L1248.94 180.08L1248.94 177.48Z" fill="#b077df"/>
<path d="M1261.34 173.08L1268.14 178.78L1261.34 184.48L1254.54 178.78Z" fill="#fff"/>
</g>
<rect x="204.7" y="815.0" width="1091.3" height="51.6" fill="#000"/>
<rect x="199.0" y="809.0" width="1090.0" height="50.8" fill="#fff" stroke="#000" stroke-width="1.9"/>
<path d="M203.5 834.4H295.5" stroke="#ec0000" stroke-width="7.0" stroke-linecap="round" fill="none"/>
<rect x="241" y="827" width="17" height="15" fill="#ec0000"/>
<rect x="245" y="830" width="9" height="8" fill="#fff"/>
<path d="M421.5 834.4H514.0" stroke="#33659b" stroke-width="7.0" stroke-linecap="round" fill="none"/>
<ellipse cx="467.50" cy="834.40" rx="8.65" ry="8.55" fill="#33659b"/>
<path d="M639.5 834.4H732.0" stroke="#fdbf12" stroke-width="7.0" stroke-linecap="round" fill="none"/>
<path d="M684.00 822.40L687.00 822.40L697.05 838.00L697.05 840.60L673.95 840.60L673.95 838.00Z" fill="#fdbf12"/>
<path d="M685.50 828.50L691.00 837.50L680.00 837.50Z" fill="#fff"/>
<path d="M857.7 834.4H950.4" stroke="#37ad6b" stroke-width="7.0" stroke-linecap="round" fill="none"/>
<path d="M891.85 828.00L914.95 828.00L914.95 830.90L903.90 847.10L902.90 847.10L891.85 830.90Z" fill="#37ad6b"/>
<path d="M1075.7 834.4H1167.7" stroke="#b077df" stroke-width="7.0" stroke-linecap="round" fill="none"/>
<path d="M1120.60 823.90L1123.40 823.90L1133.60 833.20L1133.60 835.60L1123.40 844.90L1120.60 844.90L1110.40 835.60L1110.40 833.20Z" fill="#b077df"/>
<path d="M1122.00 828.80L1128.35 834.40L1122.00 840.00L1115.65 834.40Z" fill="#fff"/>
<g opacity="0.99">
<text transform="translate(64.56 897.40) scale(1.1000 1)" font-size="35.80">290</text>
<text transform="translate(64.56 774.54) scale(1.1000 1)" font-size="35.80">300</text>
<text transform="translate(64.56 651.69) scale(1.1000 1)" font-size="35.80">310</text>
<text transform="translate(64.56 528.83) scale(1.1000 1)" font-size="35.80">320</text>
<text transform="translate(64.56 405.97) scale(1.1000 1)" font-size="35.80">330</text>
<text transform="translate(64.56 283.11) scale(1.1000 1)" font-size="35.80">340</text>
<text transform="translate(64.56 160.26) scale(1.1000 1)" font-size="35.80">350</text>
<text transform="translate(64.56 37.40) scale(1.1000 1)" font-size="35.80">360</text>
<text transform="translate(135.46 932.40) scale(1.1000 1)" font-size="35.80">0</text>
<text transform="translate(283.98 932.40) scale(1.1000 1)" font-size="35.80">100</text>
<text transform="translate(454.05 932.40) scale(1.1000 1)" font-size="35.80">200</text>
<text transform="translate(622.89 932.40) scale(1.1000 1)" font-size="35.80">300</text>
<text transform="translate(792.64 932.40) scale(1.1000 1)" font-size="35.80">400</text>
<text transform="translate(961.17 932.40) scale(1.1000 1)" font-size="35.80">500</text>
<text transform="translate(1130.62 932.40) scale(1.1000 1)" font-size="35.80">600</text>
<text transform="translate(1299.15 932.40) scale(1.1000 1)" font-size="35.80">700</text>
<text transform="translate(625.02 975.90) scale(1.0918 1)" font-size="45.60">Time (min)</text>
<text transform="translate(42.60 601.70) rotate(-90) scale(0.9865 1)" font-size="45.60">Temperature (K)</text>
<text transform="translate(957.42 796.30) scale(1.1325 1)" font-size="35.50">θ=60°</text>
<text transform="translate(1098.92 796.30) scale(1.0437 1)" font-size="35.50">T</text>
<text transform="translate(1123.80 806.00) scale(1.0769 1)" font-size="24.00">in</text>
<text transform="translate(1143.63 796.30) scale(1.1254 1)" font-size="35.50">=366K</text>
<text transform="translate(305.29 846.70) scale(1.0839 1)" font-size="36.30">Point1</text>
<text transform="translate(523.36 846.70) scale(1.1206 1)" font-size="36.30">Point2</text>
<text transform="translate(741.38 846.70) scale(1.1009 1)" font-size="36.30">Point3</text>
<text transform="translate(959.88 846.70) scale(1.0996 1)" font-size="36.30">Point4</text>
<text transform="translate(1177.17 846.70) scale(1.1148 1)" font-size="36.30">Point5</text>
</g>
</svg>
</body>
</html>
